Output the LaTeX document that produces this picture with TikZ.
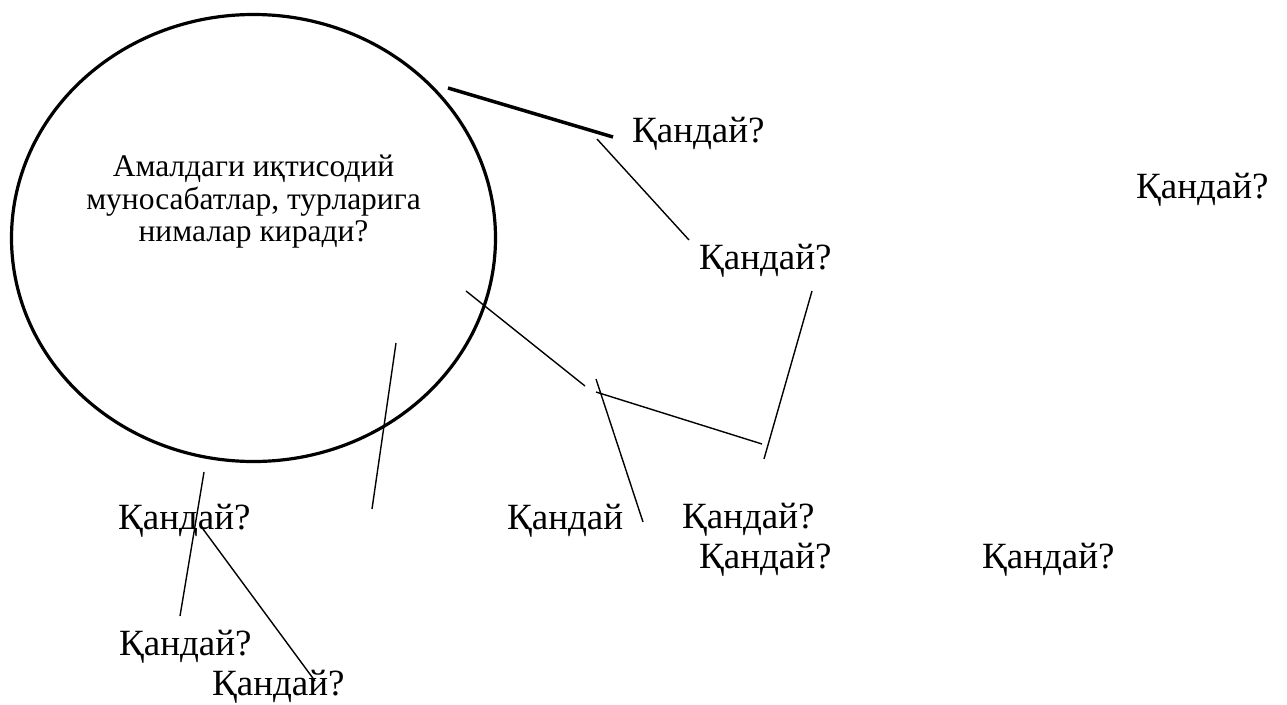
\documentclass[tikz,border=0pt]{standalone}
\usepackage{fontspec}
\setmainfont{Liberation Serif}
\usepackage{tikz}
\usetikzlibrary{positioning, shapes.geometric}

\begin{document}
\begin{tikzpicture}[x=1pt, y=-1pt]

			% Styles
			\tikzset{
				mainq/.style={
					ellipse, draw, line width=3.2pt, inner sep=0pt,
					minimum width=484pt, minimum height=447pt,
					font=\fontsize{31.5}{32.5}\selectfont
				},
				question/.style={
					inner sep=0pt, anchor=base west,
					font=\fontsize{37}{40}\selectfont
				},
				link/.style={line width=1.4pt},
				thicklink/.style={line width=3.5pt}
			}

			\useasboundingbox (0,0) rectangle (1287,704);

			% Main question
			\node (main) [mainq] at (253.5,238) {\raisebox{30pt}[0pt][0pt]{\makebox[0pt]{\parbox{400pt}{\centering Амалдаги иқтисодий\\муносабатлар, турларига\\нималар киради?}}}};

			% Answers
			\node (q1) [question] at (632,142) {Қандай?};
			\node (q2) [question] at (699,269) {Қандай?};
			\node (q3) [question] at (1136,198) {Қандай?};
			\node (q4) [question] at (118,529) {Қандай?};
			\node (q5) [question] at (507,529) {Қандай};
			\node (q6) [question] at (682,528) {Қандай?};
			\node (q7) [question] at (699,568) {Қандай?};
			\node (q8) [question] at (982,568) {Қандай?};
			\node (q9) [question] at (119,655) {Қандай?};
			\node (q10) [question] at (212,695) {Қандай?};

			% Line ends
			\coordinate (a1) at (448,88);   \coordinate (b1) at (613,137);
			\coordinate (a2) at (597,139);  \coordinate (b2) at (689,240);
			\coordinate (a3) at (466,291);  \coordinate (b3) at (585,386);
			\coordinate (a4) at (596,379);  \coordinate (b4) at (643,522);
			\coordinate (a5) at (596,392);  \coordinate (b5) at (762,444);
			\coordinate (a6) at (812,291);  \coordinate (b6) at (764,459);
			\coordinate (a7) at (396,343);  \coordinate (b7) at (372,509);
			\coordinate (a8) at (204,472);  \coordinate (b8) at (180,616);
			\coordinate (a9) at (203,529);  \coordinate (b9) at (315,681);

			% Lines
			\draw[thicklink] (a1) -- (b1);
			\foreach \i in {2,...,9}
				\draw[link] (a\i) -- (b\i);

\end{tikzpicture}
\end{document}
